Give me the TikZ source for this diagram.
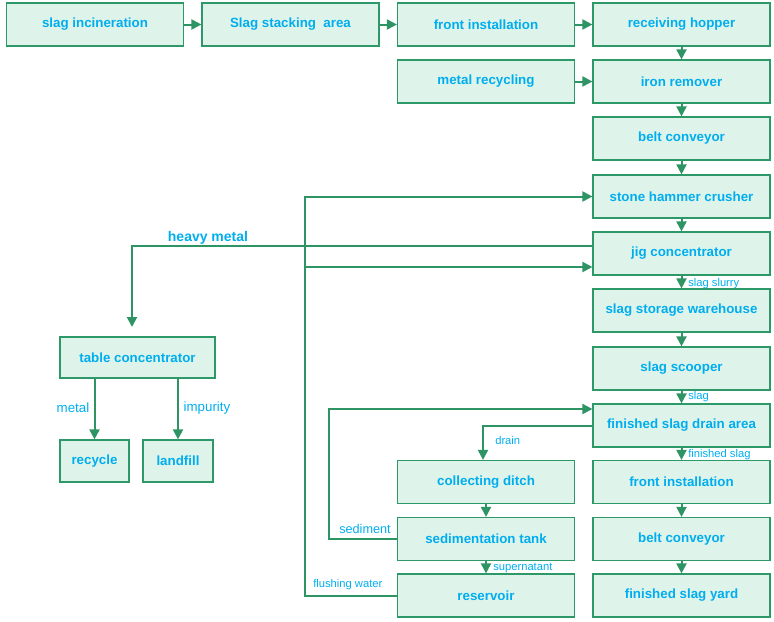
\documentclass[tikz,border=0pt]{standalone}
\usepackage{fontspec}
\setmainfont{Liberation Sans}
\usetikzlibrary{arrows.meta}
\definecolor{boxfill}{HTML}{DEF3EA}
\definecolor{boxline}{HTML}{2E9968}
\definecolor{arr}{HTML}{2E9464}
\definecolor{txt}{HTML}{00AEEF}
\begin{document}
\begin{tikzpicture}[x=0.75pt,y=-0.75pt,
  box/.style={draw=boxline,line width=0.9pt,fill=boxfill,inner sep=0pt,
    minimum height=32.25pt,minimum width=132.75pt,
    text=txt,font=\fontsize{10}{12}\selectfont\bfseries},
  conn/.style={draw=arr,line width=1.5pt,-{Triangle[length=7.5pt,width=7.5pt]}},
  line/.style={draw=arr,line width=1.5pt},
  lab/.style={text=txt,inner sep=0pt,font=\fontsize{8.4}{10}\selectfont},
]
\useasboundingbox (0,0) rectangle (774,621);
% top row
\node[box] (inc) at (95,24.5) {slag incineration};
\node[box] (stack) at (290.5,24.5) {Slag stacking\ \ area};
\node[box] (front1) at (486,24.5) {front installation};
\node[box] (hopper) at (681.5,24.5) {receiving hopper};
\node[box] (metalrec) at (486,81.5) {metal recycling};
% right column
\node[box] (iron) at (681.5,81.5) {iron remover};
\node[box] (belt1) at (681.5,138.5) {belt conveyor};
\node[box] (crusher) at (681.5,196.5) {stone hammer crusher};
\node[box] (jig) at (681.5,253.5) {jig concentrator};
\node[box] (storage) at (681.5,310.5) {slag storage warehouse};
\node[box] (scooper) at (681.5,368.5) {slag scooper};
\node[box] (drainarea) at (681.5,425.5) {finished slag drain area};
\node[box] (front2) at (681.5,482) {front installation};
\node[box] (belt2) at (681.5,539) {belt conveyor};
\node[box] (yard) at (681.5,595.5) {finished slag yard};
% middle column
\node[box] (ditch) at (486,482) {collecting ditch};
\node[box] (sedtank) at (486,539) {sedimentation tank};
\node[box] (reservoir) at (486,595.5) {reservoir};
% left
\node[box,minimum width=116.25pt,minimum height=30.75pt] (table) at (137.5,357.5) {table concentrator};
\node[box,minimum width=51.75pt,minimum height=31.5pt] (recycle) at (94.5,461) {recycle};
\node[box,minimum width=52.5pt,minimum height=31.5pt] (landfill) at (178,461) {landfill};

% horizontal top arrows
\draw[conn] (inc) -- (stack);
\draw[conn] (stack) -- (front1);
\draw[conn] (front1) -- (hopper);
\draw[conn] (metalrec) -- (iron);
% vertical chain
\draw[conn] (hopper) -- (iron);
\draw[conn] (iron) -- (belt1);
\draw[conn] (belt1) -- (crusher);
\draw[conn] (crusher) -- (jig);
\draw[conn] (jig) -- (storage);
\draw[conn] (storage) -- (scooper);
\draw[conn] (scooper) -- (drainarea);
\draw[conn] (drainarea) -- (front2);
\draw[conn] (front2) -- (belt2);
\draw[conn] (belt2) -- (yard);
\draw[conn] (ditch) -- (sedtank);
\draw[conn] (sedtank) -- (reservoir);

% heavy metal
\coordinate (hmdrop) at (132,327);
\coordinate (jigout) at ([yshift=5.625pt]jig.west);
\draw[conn] (jigout) -| (hmdrop);
\node[lab,font=\fontsize{10.5}{12}\selectfont\bfseries] (hmlab) at (208,238) {heavy metal};

% water loop
\coordinate (wl) at (305,0);
\coordinate (jigin) at ([yshift=-10.125pt]jig.west);
\draw[conn] (reservoir.west) -| (wl |- crusher.west) -- (crusher.west);
\draw[conn] (wl |- jigin) -- (jigin);

% sediment
\coordinate (sx) at (329,0);
\coordinate (drin) at ([yshift=12.375pt]drainarea.west);
\draw[conn] (sedtank.west) -| (sx |- drin) -- (drin);

% drain
\coordinate (dx) at (483,0);
\draw[conn] (drainarea.west) -| (dx |- ditch.north);

% table outputs
\draw[conn] (table.south -| recycle.north) -- (recycle.north);
\draw[conn] (table.south -| landfill.north) -- (landfill.north);

% labels
\node[lab,font=\fontsize{10}{12}\selectfont] (lmetal) at (73,408) {metal};
\node[lab,font=\fontsize{10}{12}\selectfont] (limp) at (207,408) {impurity};
\node[lab,anchor=west] (lslurry) at (688,284) {slag slurry};
\node[lab,anchor=west] (lslag) at (688,397) {slag};
\node[lab,anchor=west] (lfin) at (688,455) {finished slag};
\node[lab,anchor=west] (ldrain) at (495,440) {drain};
\node[lab,anchor=west,font=\fontsize{9.5}{11}\selectfont] (lsed) at (339,529) {sediment};
\node[lab,anchor=west] (lsup) at (493,568) {supernatant};
\node[lab,anchor=west] (lflush) at (313,585) {flushing water};
\end{tikzpicture}
\end{document}
